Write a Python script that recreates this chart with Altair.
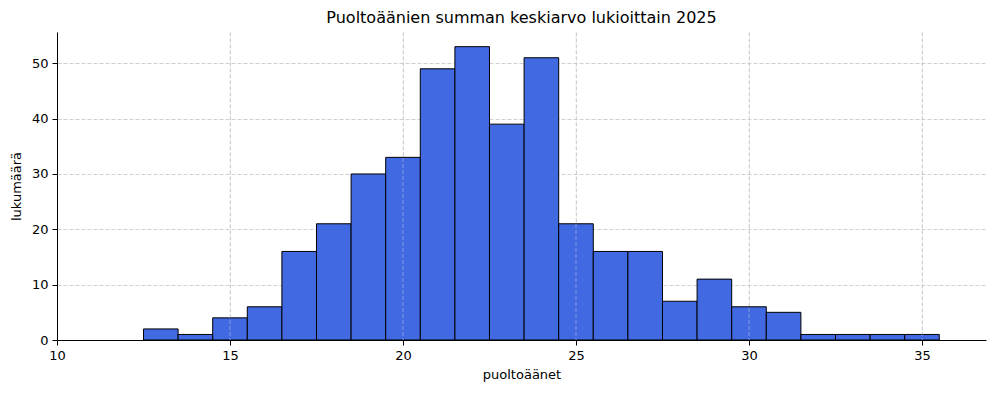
import altair as alt
import pandas as pd

bin_start = [12.5, 13.5, 14.5, 15.5, 16.5, 17.5, 18.5, 19.5, 20.5, 21.5, 22.5, 23.5,
             24.5, 25.5, 26.5, 27.5, 28.5, 29.5, 30.5, 31.5, 32.5, 33.5, 34.5]
counts = [2, 1, 4, 6, 16, 21, 30, 33, 49, 53, 39, 51,
          21, 16, 16, 7, 11, 6, 5, 1, 1, 1, 1]
x_ticks = [10, 15, 20, 25, 30, 35]
y_ticks = [0, 10, 20, 30, 40, 50]

df = pd.DataFrame({
    "start": bin_start,
    "end": [s + 1 for s in bin_start],
    "count": counts,
})
grid_df = pd.DataFrame({"t": x_ticks[1:]})

FONT = "DejaVu Sans"
xscale = alt.Scale(domain=[10, 36.85], nice=False, zero=False)
yscale = alt.Scale(domain=[0, 55.65], nice=False)

bars = alt.Chart(df).mark_rect(
    color="#4169E1", stroke="black", strokeWidth=1
).encode(
    x=alt.X("start:Q", scale=xscale,
            axis=alt.Axis(values=x_ticks, title="puoltoäänet", format="d",
                          grid=True, gridColor="#c4c4c4", gridDash=[4, 2],
                          gridWidth=0.8, labelFlush=False)),
    x2="end:Q",
    y=alt.Y("count:Q", scale=yscale,
            axis=alt.Axis(values=y_ticks, title="lukumäärä", format="d",
                          grid=True, gridColor="#c4c4c4", gridDash=[4, 2],
                          gridWidth=0.8, labelFlush=False)),
    y2=alt.datum(0),
)

vgrid = alt.Chart(grid_df).mark_rule(
    color="#d0d0d0", strokeDash=[4, 2], strokeWidth=0.8, opacity=0.6
).encode(x=alt.X("t:Q", scale=xscale))

chart = alt.layer(bars, vgrid).properties(
    width=929,
    height=308,
    padding={"left": 49, "top": 24, "right": 2, "bottom": 45},
    autosize=alt.AutoSizeParams(type="none"),
    title=alt.TitleParams(
        "Puoltoäänien summan keskiarvo lukioittain 2025",
        font=FONT, fontSize=16, fontWeight="normal", color="black",
        anchor="middle", offset=6,
    ),
).configure_view(stroke=None).configure_axis(
    labelFont=FONT, titleFont=FONT, labelFontSize=13, titleFontSize=13,
    titleFontWeight="normal", labelColor="black", titleColor="black",
    domainColor="black", domainWidth=1, tickColor="black", tickSize=5,
    tickWidth=1, labelPadding=4,
).configure_axisX(titlePadding=6).configure_axisY(titlePadding=8)

chart.save("out.html", embed_options={"renderer": "svg", "actions": False})
